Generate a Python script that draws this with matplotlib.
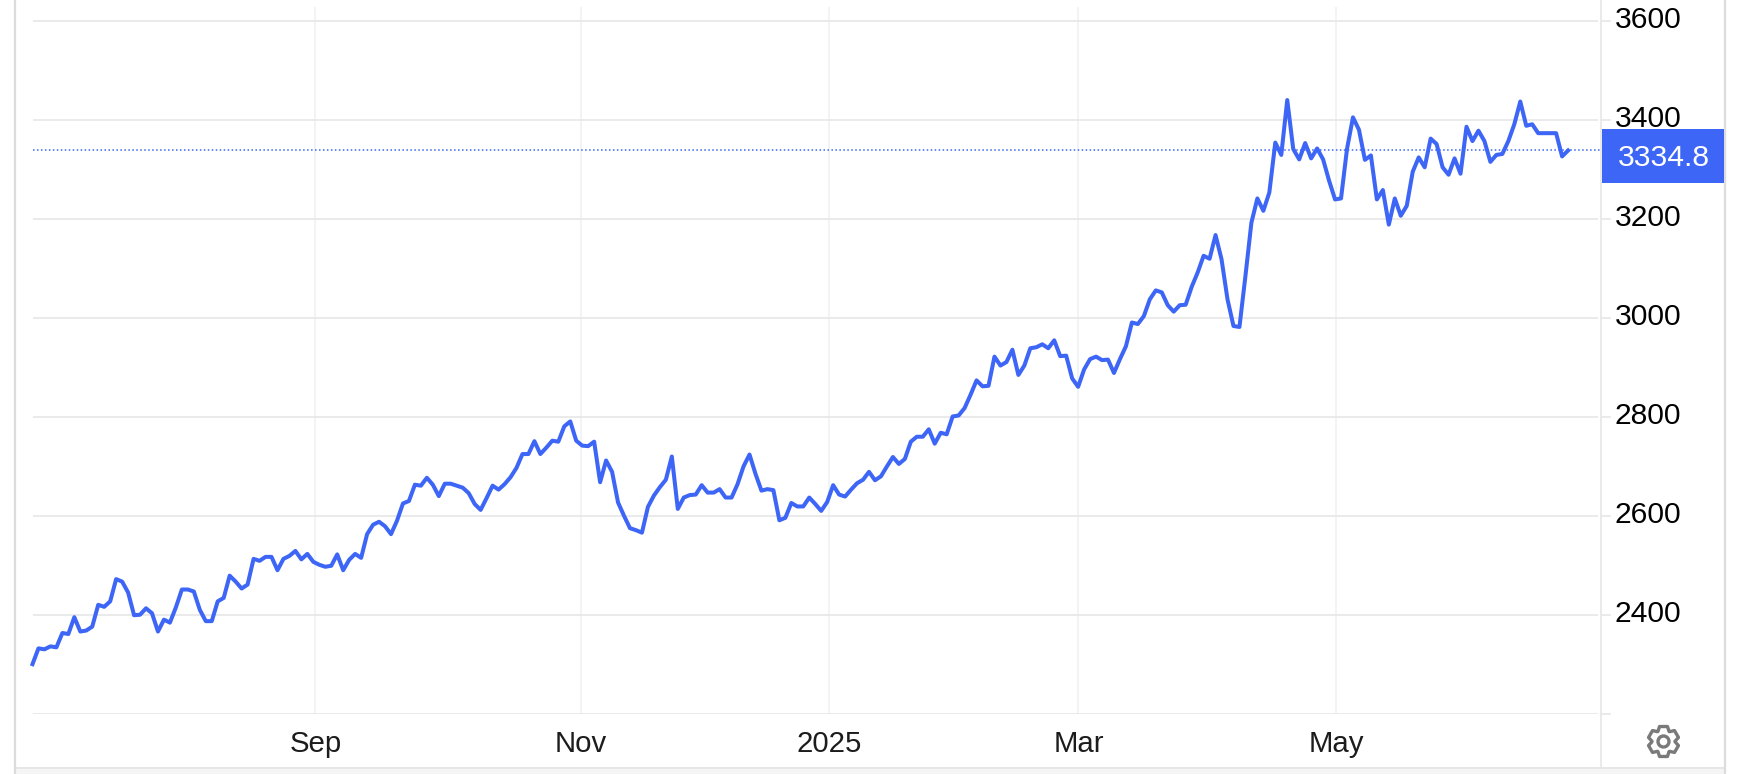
import matplotlib
matplotlib.use("Agg")
import matplotlib.pyplot as plt
from matplotlib.patches import Rectangle, Polygon, Circle
import numpy as np

plt.rcParams['font.family'] = ['Liberation Sans', 'DejaVu Sans']

values = [
 2300,2332,2330,2336,2334,2363,2361,2395,2366,2368,2376,2420,2416,2427,2472,2467,2445,2399,2400,2413,
 2403,2366,2390,2384,2415,2451,2451,2447,2410,2387,2387,2427,2434,2479,2467,2453,2461,2513,2509,2517,
 2517,2490,2513,2519,2529,2512,2523,2507,2501,2497,2499,2522,2490,2511,2523,2515,2563,2582,2588,2579,
 2563,2590,2625,2630,2663,2661,2677,2663,2640,2665,2665,2661,2657,2646,2624,2612,2636,2661,2653,2664,
 2678,2697,2725,2725,2751,2725,2738,2752,2750,2781,2791,2752,2742,2741,2750,2668,2712,2689,2627,2600,
 2575,2571,2566,2618,2641,2658,2673,2720,2614,2637,2642,2643,2662,2647,2647,2654,2637,2637,2664,2700,
 2724,2685,2651,2654,2652,2591,2596,2626,2619,2619,2637,2624,2610,2628,2662,2643,2639,2653,2666,2673,
 2689,2672,2680,2700,2719,2705,2715,2750,2760,2760,2775,2746,2768,2765,2801,2803,2818,2845,2874,2862,
 2863,2922,2904,2911,2936,2885,2904,2939,2941,2947,2939,2955,2923,2924,2878,2861,2896,2917,2922,2915,
 2916,2889,2917,2943,2991,2988,3004,3038,3056,3052,3026,3013,3026,3027,3063,3092,3126,3120,3168,3119,
 3038,2984,2982,3085,3193,3242,3217,3254,3355,3330,3441,3342,3321,3354,3323,3343,3321,3278,3240,3242,
 3342,3406,3381,3320,3329,3240,3259,3189,3242,3207,3227,3296,3325,3305,3363,3352,3305,3290,3323,3292,
 3387,3358,3379,3358,3316,3330,3332,3358,3392,3438,3389,3392,3374,3374,3374,3374,3327,3339,
]
last_label = "3334.8"
y_ticks = [2400, 2600, 2800, 3000, 3200, 3400, 3600]
x_tick_labels = ["Sep", "Nov", "2025", "Mar", "May"]
x_tick_index = [47.34, 91.77, 133.3, 175.05, 218.2]

W, H = 1738, 774
BLUE = "#3d66f6"
GRID = "#e6e6e6"
VGRID = "#eef2f5"
TXT = "#1c1c1c"

fig = plt.figure(figsize=(W/100, H/100), dpi=100, facecolor="white")

# chrome layer in pixel coordinates
bg = fig.add_axes([0, 0, 1, 1], zorder=0)
bg.set_xlim(0, W); bg.set_ylim(H, 0); bg.axis("off")
bg.add_patch(Rectangle((15, 768), 1709, 6, fc="#f5f5f5", ec="none"))
bg.plot([15, 1724], [768, 768], color=GRID, lw=1.4)
bg.plot([15, 15], [0, H], color="#dcdcdc", lw=1.6)
bg.plot([1724.5, 1724.5], [0, H], color="#dcdcdc", lw=1.6)
bg.plot([1601, 1601], [0, 768], color=GRID, lw=1.2)

# main axes
L, R, T, B = 32.5, 1598, 7, 713.6
ax = fig.add_axes([L/W, 1-B/H, (R-L)/W, (B-T)/H], zorder=1)
ax.patch.set_alpha(0)
dx = 5.975
ax.set_xlim(0, (R-L)/dx)
ax.set_ylim(2200, 2200 + (B-T)/0.4944)
for s in ax.spines.values():
    s.set_visible(False)

for v in [2200] + y_ticks:
    ax.axhline(v, color=GRID, lw=1.2, zorder=1)
for xi in x_tick_index:
    ax.axvline(xi, color=VGRID, lw=1.2, zorder=0.5)

x = np.arange(len(values))
ax.plot(x, values, color=BLUE, lw=2.9, solid_joinstyle="round", zorder=3, clip_on=False)
ax.axhline(values[-1], color=BLUE, lw=1.1, ls=(0, (1, 1.6)), zorder=2)

ax.set_xticks(x_tick_index, x_tick_labels)
ax.tick_params(axis="x", length=0, pad=11.5, labelsize=21.2, labelcolor=TXT)
ax.set_yticks(y_ticks, [str(v) for v in y_ticks])
ax.tick_params(axis="y", left=False, right=False, labelleft=False, labelright=False)

# right-hand labels and ticks
fg = fig.add_axes([0, 0, 1, 1], zorder=2)
fg.set_xlim(0, W); fg.set_ylim(H, 0); fg.axis("off"); fg.patch.set_alpha(0)
to_px = lambda v: ax.transData.transform((0, v))[1]
for v in y_ticks + [2200]:
    py = H - to_px(v)
    fg.plot([1602, 1610], [py, py], color=GRID, lw=1.2)
    if v != 2200:
        fg.text(1615, py - 1, str(v), fontsize=21.6, color="black", va="center", ha="left")
fg.add_patch(Rectangle((1602, 129), 122, 54, fc=BLUE, ec="none", zorder=5))
fg.text(1663.5, 158, last_label, fontsize=21.6, color="white", va="center", ha="center", zorder=6)
fg.plot([1598, 1603], [H - to_px(values[-1])]*2, color=BLUE, lw=1.1, ls=(0, (1, 1.6)))

# settings gear
cx, cy = 1663.5, 741.5
n = 6
pts = []
for k in range(n):
    a = 2*np.pi*k/n - np.pi/2
    for da, r in [(-0.50, 11.5), (-0.26, 15.5), (0.26, 15.5), (0.50, 11.5)]:
        pts.append((cx + r*np.cos(a+da), cy + r*np.sin(a+da)))
fg.add_patch(Polygon(pts, closed=True, fc="none", ec="#7a7a7a", lw=2.4, joinstyle="round"))
fg.add_patch(Circle((cx, cy), 5.5, fc="none", ec="#7a7a7a", lw=2.4))

fig.savefig("out.png", dpi=100, facecolor="white")
